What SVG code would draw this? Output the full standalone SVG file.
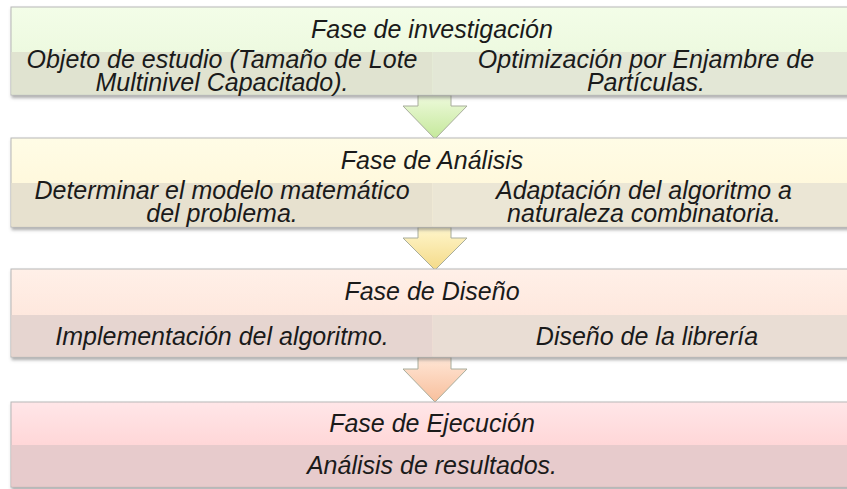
<svg xmlns="http://www.w3.org/2000/svg" width="847" height="489" viewBox="0 0 847 489">
<defs>
<linearGradient id="g1" x1="0" y1="0" x2="0" y2="1"><stop offset="0" stop-color="#f3fde8"/><stop offset="1" stop-color="#e8f6d8"/></linearGradient>
<linearGradient id="g2" x1="0" y1="0" x2="0" y2="1"><stop offset="0" stop-color="#fffce6"/><stop offset="1" stop-color="#fff5d4"/></linearGradient>
<linearGradient id="g3" x1="0" y1="0" x2="0" y2="1"><stop offset="0" stop-color="#fff0e8"/><stop offset="1" stop-color="#fde0d4"/></linearGradient>
<linearGradient id="g4" x1="0" y1="0" x2="0" y2="1"><stop offset="0" stop-color="#ffe6e8"/><stop offset="1" stop-color="#ffc8c8"/></linearGradient>
<linearGradient id="a1" x1="0" y1="0" x2="0" y2="1"><stop offset="0" stop-color="#eefadc"/><stop offset="1" stop-color="#c4e89a"/></linearGradient>
<linearGradient id="a2" x1="0" y1="0" x2="0" y2="1"><stop offset="0" stop-color="#fff6cc"/><stop offset="1" stop-color="#f4da88"/></linearGradient>
<linearGradient id="a3" x1="0" y1="0" x2="0" y2="1"><stop offset="0" stop-color="#ffe6d6"/><stop offset="1" stop-color="#f8bf9c"/></linearGradient>
<filter id="sh" x="-5%" y="-20%" width="110%" height="140%"><feDropShadow dx="1" dy="2.5" stdDeviation="1.5" flood-color="#666" flood-opacity="0.55"/></filter>
</defs>
<style>
.t{font-family:"Liberation Sans",Arial,sans-serif;font-style:italic;font-size:25px;fill:#1a1a1a;text-anchor:middle}
.box{stroke:#b8b8b8;stroke-width:1}
.arr{stroke:#a8ad9c;stroke-width:1}
</style>
<g id="connectors">
<path class="arr" fill="url(#a1)" d="M418,95 H451 V106 H467 L435,139 L403,106 H418 Z"/>
<path class="arr" fill="url(#a2)" d="M418,227 H451 V238 H467 L435,270 L403,238 H418 Z"/>
<path class="arr" fill="url(#a3)" d="M418,357 H451 V369 H467 L435,402 L403,369 H418 Z"/>
</g>
<g id="fase-investigacion">
<g filter="url(#sh)">
<rect class="box" x="11" y="7" width="850" height="88" fill="url(#g1)"/>
<rect x="11.5" y="52" width="421" height="42.5" fill="#e0e3d0"/>
<rect x="432.5" y="52" width="428" height="42.5" fill="#e3e7d6"/>
</g>
<text class="t" x="432" y="38">Fase de investigación</text>
<text class="t" x="222" y="68">Objeto de estudio (Tamaño de Lote</text>
<text class="t" x="222" y="91">Multinivel Capacitado).</text>
<text class="t" x="646" y="68">Optimización por Enjambre de</text>
<text class="t" x="646" y="91">Partículas.</text>
</g>
<g id="fase-analisis">
<g filter="url(#sh)">
<rect class="box" x="11" y="138" width="850" height="89" fill="url(#g2)"/>
<rect x="11.5" y="183" width="421" height="43.5" fill="#e7e1cf"/>
<rect x="432.5" y="183" width="428" height="43.5" fill="#ebe6d5"/>
</g>
<text class="t" x="432" y="169">Fase de Análisis</text>
<text class="t" x="222" y="199">Determinar el modelo matemático</text>
<text class="t" x="222" y="222">del problema.</text>
<text class="t" x="644" y="199">Adaptación del algoritmo a</text>
<text class="t" x="644" y="222">naturaleza combinatoria.</text>
</g>
<g id="fase-diseno">
<g filter="url(#sh)">
<rect class="box" x="11" y="269" width="850" height="88" fill="url(#g3)"/>
<rect x="11.5" y="315" width="421" height="41.5" fill="#e6d5d0"/>
<rect x="432.5" y="315" width="428" height="41.5" fill="#e9ddd4"/>
</g>
<text class="t" x="432" y="300">Fase de Diseño</text>
<text class="t" x="222" y="345">Implementación del algoritmo.</text>
<text class="t" x="647" y="345">Diseño de la librería</text>
</g>
<g id="fase-ejecucion">
<g filter="url(#sh)">
<rect class="box" x="11" y="402" width="850" height="85" fill="url(#g4)"/>
<rect x="11.5" y="445" width="849" height="41.5" fill="#e7cbcc"/>
</g>
<text class="t" x="432" y="432">Fase de Ejecución</text>
<text class="t" x="432" y="474">Análisis de resultados.</text>
</g>
</svg>
